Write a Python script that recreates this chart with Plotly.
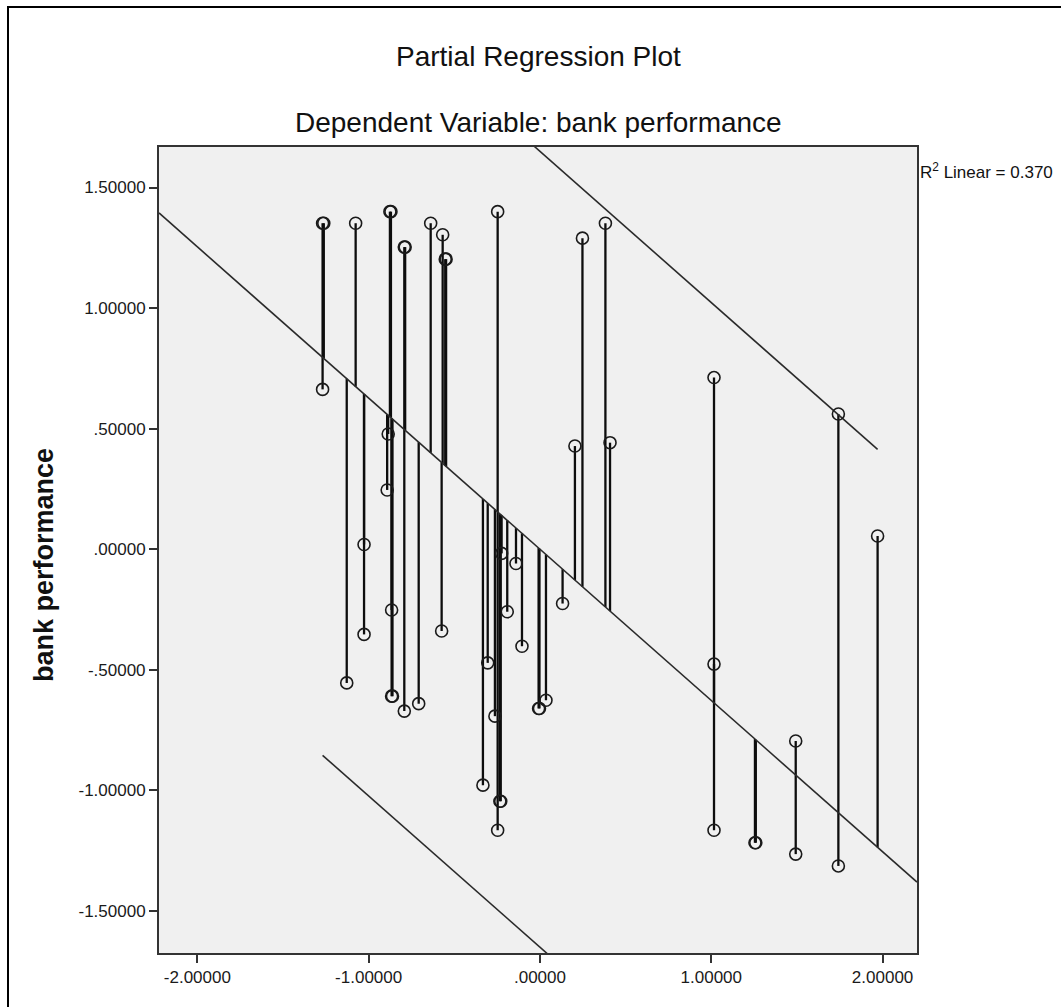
import plotly.graph_objects as go

# ---- data ----
x_vals = [-1.269, -1.262, -1.269, -1.076, -1.128, -1.027, -1.027,
          -0.876, -0.870, -0.886, -0.892, -0.866, -0.866, -0.861,
          -0.792, -0.787, -0.792, -0.708, -0.638, -0.568, -0.553, -0.548, -0.574,
          -0.247, -0.305, -0.333, -0.263, -0.234, -0.229, -0.247, -0.224,
          -0.191, -0.140, -0.105, -0.008, -0.003, 0.035, 0.132,
          0.204, 0.248, 0.382, 0.409,
          1.016, 1.016, 1.016, 1.255, 1.260, 1.493, 1.493, 1.742, 1.742, 1.971]
y_vals = [1.352, 1.352, 0.663, 1.352, -0.554, 0.020, -0.353,
          1.400, 1.400, 0.478, 0.246, -0.252, -0.609, -0.609,
          1.253, 1.253, -0.671, -0.640, 1.352, 1.304, 1.203, 1.203, -0.339,
          1.400, -0.471, -0.978, -0.692, -1.045, -1.045, -1.165, -0.017,
          -0.259, -0.059, -0.402, -0.660, -0.660, -0.626, -0.225,
          0.428, 1.290, 1.352, 0.442,
          0.712, -0.476, -1.165, -1.217, -1.217, -0.795, -1.264, 0.561, -1.313, 0.055]

fit_slope = -0.627
fit_intercept = 0.0
band_offset = 1.65
r2_label = "R<sup>2</sup> Linear = 0.370"

x_tickvals = [-2, -1, 0, 1, 2]
x_ticktext = ["-2.00000", "-1.00000", ".00000", "1.00000", "2.00000"]
y_tickvals = [1.5, 1.0, 0.5, 0.0, -0.5, -1.0, -1.5]
y_ticktext = ["1.50000", "1.00000", ".50000", ".00000", "-.50000", "-1.00000", "-1.50000"]
x_range = [-2.224, 2.201]
y_range = [-1.674, 1.668]

title1 = "Partial Regression Plot"
title2 = "Dependent Variable: bank performance"
y_title = "bank performance"

FONT = "Liberation Sans, Arial, sans-serif"


def fit(x):
    return fit_intercept + fit_slope * x


# drop lines from each point to the fit line
drop_x, drop_y = [], []
for xv, yv in zip(x_vals, y_vals):
    drop_x += [xv, xv, None]
    drop_y += [yv, fit(xv), None]

xmin, xmax = min(x_vals), max(x_vals)

fig = go.Figure()
fig.add_trace(go.Scatter(x=drop_x, y=drop_y, mode="lines",
                         line=dict(color="#0d0d0d", width=2.3), hoverinfo="skip",
                         showlegend=False))
fig.add_trace(go.Scatter(x=x_range, y=[fit(v) for v in x_range], mode="lines",
                         line=dict(color="#2a2a2a", width=1.6), showlegend=False))
fig.add_trace(go.Scatter(x=[xmin, xmax], y=[fit(xmin) + band_offset, fit(xmax) + band_offset],
                         mode="lines", line=dict(color="#2a2a2a", width=1.6), showlegend=False))
fig.add_trace(go.Scatter(x=[xmin, xmax], y=[fit(xmin) - band_offset, fit(xmax) - band_offset],
                         mode="lines", line=dict(color="#2a2a2a", width=1.6), showlegend=False))
fig.add_trace(go.Scatter(x=x_vals, y=y_vals, mode="markers",
                         marker=dict(symbol="circle-open", size=12, color="#1a1a1a",
                                     line=dict(color="#1a1a1a", width=1.6)),
                         showlegend=False))

W, H = 1061, 1007
L, R, T, B = 159, 144, 147, 54
pw, ph = W - L - R, H - T - B


def px(xp):
    return (xp - L) / pw


def py(yp):
    return (H - B - yp) / ph


axis_common = dict(showline=True, mirror=True, linecolor="#333333", linewidth=2,
                   ticks="outside", ticklen=8, tickwidth=2, tickcolor="#333333",
                   showgrid=False, zeroline=False,
                   tickfont=dict(family=FONT, size=17, color="#1a1a1a"))

fig.update_layout(
    width=W, height=H, autosize=False,
    margin=dict(l=L, r=R, t=T, b=B),
    paper_bgcolor="white", plot_bgcolor="#F0F0F0",
    xaxis=dict(range=x_range, tickvals=x_tickvals, ticktext=x_ticktext, **axis_common),
    yaxis=dict(range=y_range, tickvals=y_tickvals, ticktext=y_ticktext, **axis_common),
    shapes=[dict(type="rect", xref="paper", yref="paper",
                 x0=px(8), x1=px(1100), y0=py(1050), y1=py(7),
                 line=dict(color="black", width=2), layer="below")],
    annotations=[
        dict(text=title1, xref="paper", yref="paper", x=0.5, y=py(57),
             showarrow=False, font=dict(family=FONT, size=28, color="#111111"),
             xanchor="center", yanchor="middle"),
        dict(text=title2, xref="paper", yref="paper", x=0.5, y=py(122),
             showarrow=False, font=dict(family=FONT, size=28, color="#111111"),
             xanchor="center", yanchor="middle"),
        dict(text="<b>" + y_title + "</b>", xref="paper", yref="paper", x=px(44), y=py(565),
             textangle=-90, showarrow=False, font=dict(family=FONT, size=27, color="#111111"),
             xanchor="center", yanchor="middle"),
        dict(text=r2_label, xref="paper", yref="paper", x=px(918), y=py(171),
             showarrow=False, font=dict(family=FONT, size=17, color="#111111"),
             xanchor="left", yanchor="middle"),
    ],
)

fig.write_html("out.html", config={"displayModeBar": False},
               post_script="document.body.style.margin='0';")
